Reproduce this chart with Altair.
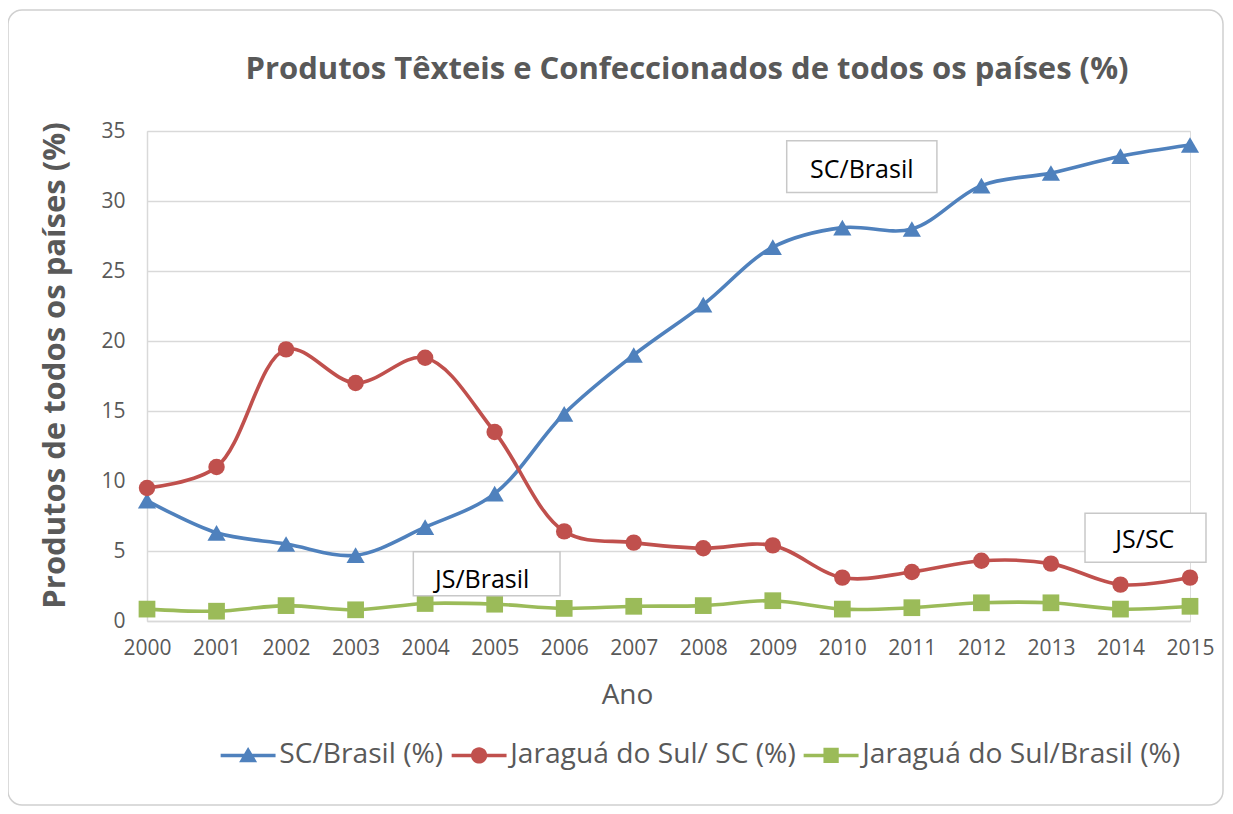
import altair as alt
import pandas as pd

years = list(range(2000, 2016))
sc_brasil = [8.6, 6.3, 5.5, 4.7, 6.7, 9.1, 14.8, 19.0, 22.6, 26.7, 28.1, 28.0, 31.1, 32.0, 33.2, 34.0]
js_sc = [9.5, 11.0, 19.4, 17.0, 18.8, 13.5, 6.4, 5.6, 5.2, 5.4, 3.1, 3.5, 4.3, 4.1, 2.6, 3.1]
js_brasil = [0.85, 0.7, 1.1, 0.8, 1.25, 1.2, 0.9, 1.05, 1.1, 1.45, 0.85, 0.95, 1.3, 1.3, 0.85, 1.05]

series_names = ["SC/Brasil (%)", "Jaraguá do Sul/ SC (%)", "Jaraguá do Sul/Brasil (%)"]
series_colors = ["#4F81BD", "#C0504D", "#9BBB59"]
series_shapes = ["triangle-up", "circle", "square"]
series_sizes = [330, 270, 280]
# legend symbols: line segment with the marker on it
legend_paths = [
    "M-3.05,-0.19H3.05V0.19H-3.05Z M0,-0.95L1.0,0.75H-1.0Z",
    "M-3.05,-0.19H3.05V0.19H-3.05Z M-0.9,0A0.9,0.9 0 1,1 0.9,0A0.9,0.9 0 1,1 -0.9,0Z",
    "M-3.05,-0.19H3.05V0.19H-3.05Z M-0.85,-0.85H0.85V0.85H-0.85Z",
]

title_text = "Produtos Têxteis e Confeccionados de todos os países (%)"
ann_text = ["SC/Brasil", "JS/Brasil", "JS/SC"]
ann_x = [2010.28, 2004.82, 2014.35]
ann_y = [32.2, 2.9, 5.8]
ann_x0 = [2009.2, 2003.83, 2013.49]
ann_x1 = [2011.36, 2005.94, 2015.23]
ann_y0 = [30.6, 1.8, 4.2]
ann_y1 = [34.3, 4.95, 7.7]

rows = []
for name, vals in zip(series_names, [sc_brasil, js_sc, js_brasil]):
    for yr, v in zip(years, vals):
        rows.append({"Ano": yr, "valor": v, "serie": name})
df = pd.DataFrame(rows)
ann = pd.DataFrame({"t": ann_text, "x": ann_x, "y": ann_y,
                    "x0": ann_x0, "x1": ann_x1, "y0": ann_y0, "y1": ann_y1})

FONT = "Open Sans"
GRAY = "#595959"

x_enc = alt.X("Ano:Q", scale=alt.Scale(domain=[2000, 2015], nice=False, zero=False),
              axis=alt.Axis(values=years, format="d", title="Ano", grid=False,
                            ticks=False, labelPadding=16, labelFontSize=21, labelFlush=False,
                            labelColor=GRAY, labelFont=FONT, titleFont=FONT,
                            titleFontSize=28, titleFontWeight="normal", titleColor=GRAY,
                            titleX=480, titleY=74, titleBaseline="middle",
                            domainColor="#d9d9d9", domainWidth=1.5))
y_enc = alt.Y("valor:Q", scale=alt.Scale(domain=[0, 35], nice=False),
              axis=alt.Axis(values=[0, 5, 10, 15, 20, 25, 30, 35],
                            title="Produtos de todos os países (%)",
                            ticks=False, labelPadding=22, labelFontSize=21,
                            labelColor=GRAY, labelFont=FONT, titleFont=FONT,
                            titleFontSize=31, titleFontWeight="bold", titleColor=GRAY,
                            titleX=-92, titleY=234, titleBaseline="middle", titleAlign="center",
                            gridColor="#d9d9d9", gridWidth=1.5,
                            domainColor="#d9d9d9", domainWidth=1.5))

leg = alt.Legend(title=None, orient="none", direction="horizontal",
                 legendX=87, legendY=610, labelFontSize=28.2, labelLimit=0,
                 labelFont=FONT, labelColor=GRAY, symbolSize=324, labelOffset=17,
                 columnPadding=7, symbolStrokeWidth=0)

border = alt.Chart(pd.DataFrame({"a": [0]})).mark_rect(
    filled=False, stroke="#d0d0d0", strokeWidth=1.5, cornerRadius=14, clip=False
).encode(x=alt.value(-139), x2=alt.value(1076), y=alt.value(-121), y2=alt.value(674))

title = alt.Chart(pd.DataFrame({"t": [title_text]})).mark_text(
    font=FONT, fontSize=31, fontWeight="bold", color=GRAY, baseline="middle", clip=False
).encode(text="t:N", x=alt.value(540), y=alt.value(-61))

legend_layer = alt.Chart(df).transform_filter("false").mark_point(filled=True, opacity=1).encode(
    x=x_enc, y=y_enc,
    color=alt.Color("serie:N", scale=alt.Scale(domain=series_names, range=series_colors), legend=leg),
    shape=alt.Shape("serie:N", scale=alt.Scale(domain=series_names, range=legend_paths), legend=leg),
)

layers = [border, legend_layer]
for name, c in zip(series_names, series_colors):
    layers.append(alt.Chart(df).transform_filter(alt.datum.serie == name).mark_line(
        interpolate="catmull-rom", strokeWidth=3.6, color=c).encode(x="Ano:Q", y="valor:Q"))
for name, c, s, sz in zip(series_names, series_colors, series_shapes, series_sizes):
    layers.append(alt.Chart(df).transform_filter(alt.datum.serie == name).mark_point(
        filled=True, opacity=1, color=c, shape=s, size=sz).encode(x="Ano:Q", y="valor:Q"))

boxes = alt.Chart(ann).mark_rect(fill="white", stroke="#c8c8c8", strokeWidth=1.5, clip=False).encode(
    x="x0:Q", x2="x1:Q", y="y0:Q", y2="y1:Q")
texts = alt.Chart(ann).mark_text(fontSize=25, font=FONT, color="black", clip=False).encode(
    x="x:Q", y="y:Q", text="t:N")
layers += [boxes, texts, title]

chart = alt.layer(*layers).properties(
    width=1043, height=490,
    autosize=alt.AutoSizeParams(type="none"),
    padding={"left": 139, "top": 123, "right": 35, "bottom": 185},
).configure_view(stroke=None).configure(background="white")

chart.save("out.html", embed_options={"renderer": "svg", "actions": False})
